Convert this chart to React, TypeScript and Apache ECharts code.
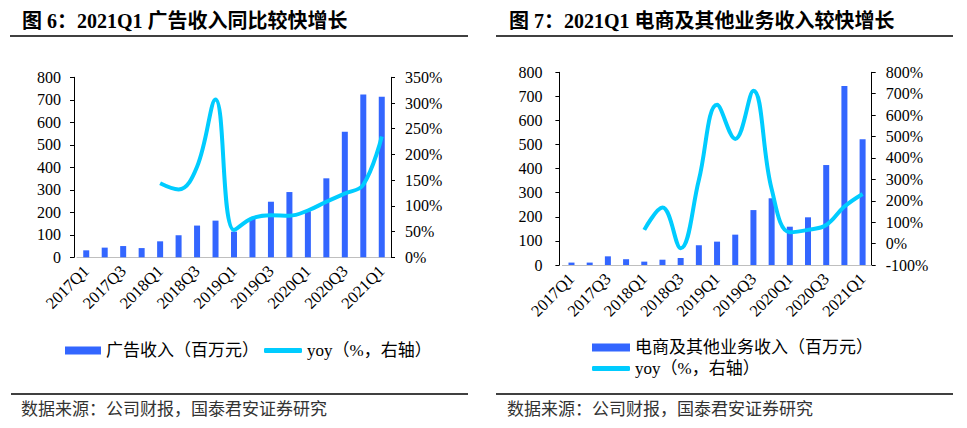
import React, { useEffect, useRef } from "react";
import * as echarts from "echarts";

const categories = [
  "2017Q1", "2017Q2", "2017Q3", "2017Q4",
  "2018Q1", "2018Q2", "2018Q3", "2018Q4",
  "2019Q1", "2019Q2", "2019Q3", "2019Q4",
  "2020Q1", "2020Q2", "2020Q3", "2020Q4",
  "2021Q1",
];
const adRevenue = [31, 43, 50, 41, 71, 98, 141, 163, 114, 175, 247, 290, 205, 351, 558, 723, 714];
const adYoy = [null, null, null, null, 144, 132, 176, 307, 53, 76, 82, 81, 91, 108, 124, 141, 235];
const ecomRevenue = [10, 10, 36, 24, 14, 22, 29, 82, 97, 126, 228, 277, 159, 198, 415, 743, 522];
const ecomYoy = [null, null, null, null, 64, 168, -22, 297, 648, 489, 714, 255, 53, 64, 87, 173, 232];

const title1 = "图 6：2021Q1 广告收入同比较快增长";
const title2 = "图 7：2021Q1 电商及其他业务收入较快增长";
const source = "数据来源：公司财报，国泰君安证券研究";
const adName = "广告收入（百万元）";
const ecomName = "电商及其他业务收入（百万元）";
const yoyName = "yoy（%，右轴）";

const BAR = "#3366FF";
const LINE = "#00CCFF";
const SERIF = "'Liberation Serif', 'Noto Sans CJK SC', serif";
const CJK = "'Liberation Serif', 'Noto Sans CJK SC', sans-serif";

export default function App() {
  const ref = useRef<HTMLDivElement>(null);
  useEffect(() => {
    if (!ref.current) return;
    const chart = echarts.init(ref.current, null, { renderer: "svg" });

    const axisLabel = { color: "#000", fontSize: 16, fontFamily: SERIF };
    const yAxisBase = (gridIndex: number, position: string, min: number, max: number, interval: number, pct: boolean, offset: number, margin: number) => ({
      type: "value",
      gridIndex,
      position,
      min,
      max,
      interval,
      offset,
      splitLine: { show: false },
      axisLine: { show: true, lineStyle: { color: "#000", width: 1 } },
      axisTick: { show: true, inside: false, length: 4, lineStyle: { color: "#000" } },
      axisLabel: { ...axisLabel, margin, formatter: pct ? "{value}%" : "{value}" },
    });
    const xAxisBase = (gridIndex: number) => ({
      type: "category",
      gridIndex,
      data: categories,
      boundaryGap: true,
      axisLine: { show: true, lineStyle: { color: "#bfbfbf", width: 1 } },
      axisTick: { show: false },
      axisLabel: { ...axisLabel, fontSize: 16.5, rotate: 45, interval: 1, margin: 11 },
    });

    const legendText = { color: "#000", fontSize: 17, fontFamily: CJK };

    chart.setOption({
      animation: false,
      backgroundColor: "#fff",
      grid: [
        { left: 77, top: 77.3, width: 314, height: 180 },
        { left: 562.4, top: 72.3, width: 309.3, height: 192.7 },
      ],
      xAxis: [xAxisBase(0), xAxisBase(1)],
      yAxis: [
        yAxisBase(0, "left", 0, 800, 100, false, 3, 13),
        yAxisBase(0, "right", 0, 350, 50, true, 0, 14),
        yAxisBase(1, "left", 0, 800, 100, false, 3, 17),
        yAxisBase(1, "right", -100, 800, 100, true, 0, 14),
      ],
      legend: [
        {
          left: 60, top: 337, itemWidth: 36, itemHeight: 8, itemGap: 5, textStyle: legendText,
          data: [{ name: adName, icon: "rect" }],
          selectedMode: false,
        },
        {
          left: 259, top: 337, itemWidth: 38, itemHeight: 5, textStyle: legendText,
          data: [{ name: yoyName, icon: "roundRect", itemStyle: { color: LINE } }],
          selectedMode: false,
        },
        {
          left: 587, top: 334, itemWidth: 38, itemHeight: 8, textStyle: legendText,
          data: [{ name: ecomName, icon: "rect" }],
          selectedMode: false,
        },
        {
          left: 587, top: 355, itemWidth: 38, itemHeight: 5, textStyle: legendText,
          data: [{ name: yoyName, icon: "roundRect", itemStyle: { color: LINE } }],
          selectedMode: false,
        },
      ],
      series: [
        { name: adName, type: "bar", xAxisIndex: 0, yAxisIndex: 0, data: adRevenue, barWidth: 6, itemStyle: { color: BAR } },
        { name: yoyName, type: "line", xAxisIndex: 0, yAxisIndex: 1, data: adYoy, smooth: 0.4, showSymbol: false, symbol: "none", lineStyle: { color: LINE, width: 4 }, itemStyle: { color: LINE } },
        { name: ecomName, type: "bar", xAxisIndex: 1, yAxisIndex: 2, data: ecomRevenue, barWidth: 6, itemStyle: { color: BAR } },
        { name: yoyName, type: "line", xAxisIndex: 1, yAxisIndex: 3, data: ecomYoy, smooth: 0.4, showSymbol: false, symbol: "none", lineStyle: { color: LINE, width: 4 }, itemStyle: { color: LINE } },
      ],
      graphic: [
        { type: "text", left: 22, top: 11, style: { text: title1, fontSize: 20, fontWeight: "bold", fontFamily: SERIF, fill: "#000" } },
        { type: "text", left: 509, top: 11, style: { text: title2, fontSize: 20, fontWeight: "bold", fontFamily: SERIF, fill: "#000" } },
        { type: "line", shape: { x1: 10, y1: 36, x2: 468, y2: 36 }, style: { stroke: "#000", lineWidth: 1.5 } },
        { type: "line", shape: { x1: 496, y1: 36, x2: 953, y2: 36 }, style: { stroke: "#000", lineWidth: 1.5 } },
        { type: "line", shape: { x1: 11, y1: 394, x2: 468, y2: 394 }, style: { stroke: "#000", lineWidth: 1.5 } },
        { type: "line", shape: { x1: 496, y1: 394, x2: 953, y2: 394 }, style: { stroke: "#000", lineWidth: 1.5 } },
        { type: "text", left: 21, top: 401, style: { text: source, fontSize: 17, fontFamily: CJK, fill: "#333" } },
        { type: "text", left: 507, top: 401, style: { text: source, fontSize: 17, fontFamily: CJK, fill: "#333" } },
      ],
    });
    return () => chart.dispose();
  }, []);
  return <div ref={ref} style={{ position: "fixed", left: 0, top: 0, width: 967, height: 428 }} />;
}
